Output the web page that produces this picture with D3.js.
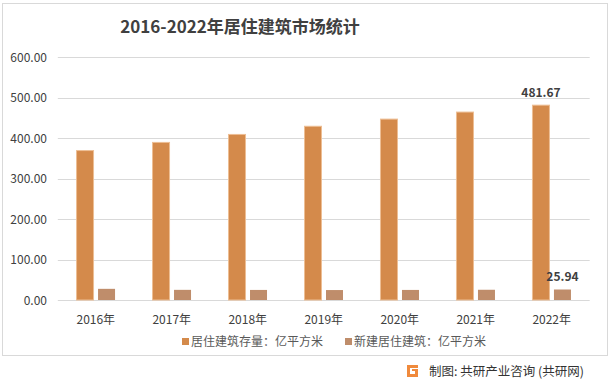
<!DOCTYPE html>
<html>
<head>
<meta charset="utf-8">
<script src="https://cdn.jsdelivr.net/npm/d3@7"></script>
<style>
  body { margin: 0; background: #fff; }
  svg { font-family: "Microsoft YaHei", "Noto Sans CJK SC", sans-serif; }
</style>
</head>
<body>
<div id="viz"></div>
<script>
const years = ["2016年", "2017年", "2018年", "2019年", "2020年", "2021年", "2022年"];
const stock = [369.4, 389.6, 409.3, 429.5, 447.2, 464.6, 481.67];
const newBuilt = [27.6, 25.1, 24.9, 24.6, 24.9, 25.3, 25.94];
const seriesNames = ["居住建筑存量：亿平方米", "新建居住建筑：亿平方米"];
const yTicks = [0, 100, 200, 300, 400, 500, 600];

const width = 611, height = 388;
const colors = ["#D48A4B", "#BF8D6B"];

const svg = d3.select("#viz").append("svg")
  .attr("width", width).attr("height", height);

// outer frame
svg.append("rect")
  .attr("x", 2.5).attr("y", 3.5).attr("width", 605).attr("height", 352)
  .attr("fill", "none").attr("stroke", "#D9D9D9");

svg.append("text")
  .attr("x", 240).attr("y", 33)
  .attr("text-anchor", "middle")
  .attr("font-size", 17).attr("font-weight", "bold")
  .attr("fill", "#404040")
  .text("2016-2022年居住建筑市场统计");

const x = d3.scaleBand().domain(years).range([57.8, 589.7]);
const y = d3.scaleLinear().domain([0, 600]).range([300, 57.3]);
const barW = 17, gap = 4.5;

// grid lines
svg.append("g").selectAll("line").data(yTicks).enter().append("line")
  .attr("x1", 57.8).attr("x2", 589.7)
  .attr("y1", d => Math.round(y(d)) + 0.5).attr("y2", d => Math.round(y(d)) + 0.5)
  .attr("stroke", "#D9D9D9").attr("stroke-width", 1);

svg.append("g").selectAll("text").data(yTicks).enter().append("text")
  .attr("x", 47).attr("y", d => y(d) + 4.5)
  .attr("text-anchor", "end")
  .attr("font-size", 12).attr("fill", "#404040")
  .text(d => d.toFixed(2));

const cx = d => x(d) + x.bandwidth() / 2;

svg.append("g").selectAll("rect").data(years).enter().append("rect")
  .attr("x", d => cx(d) - barW - gap / 2)
  .attr("y", (d, i) => y(stock[i]))
  .attr("width", barW)
  .attr("height", (d, i) => y(0) - y(stock[i]))
  .attr("fill", colors[0])
  .attr("stroke", "#EDBE94").attr("stroke-width", 1);

svg.append("g").selectAll("rect").data(years).enter().append("rect")
  .attr("x", d => cx(d) + gap / 2)
  .attr("y", (d, i) => y(newBuilt[i]))
  .attr("width", barW)
  .attr("height", (d, i) => y(0) - y(newBuilt[i]))
  .attr("fill", colors[1]);

// labels for last year
const last = years.length - 1;
svg.append("text")
  .attr("x", cx(years[last]) - barW / 2 - gap / 2).attr("y", y(stock[last]) - 8)
  .attr("text-anchor", "middle").attr("font-size", 12).attr("font-weight", "bold")
  .attr("fill", "#404040").text(stock[last].toFixed(2));
svg.append("text")
  .attr("x", cx(years[last]) + barW / 2 + gap / 2).attr("y", y(newBuilt[last]) - 9)
  .attr("text-anchor", "middle").attr("font-size", 12).attr("font-weight", "bold")
  .attr("fill", "#404040").text(newBuilt[last].toFixed(2));

// x labels
svg.append("g").selectAll("text").data(years).enter().append("text")
  .attr("x", d => cx(d)).attr("y", 324)
  .attr("text-anchor", "middle")
  .attr("font-size", 12).attr("fill", "#404040")
  .text(d => d);

// legend
const legendX = [182, 345];
seriesNames.forEach((name, i) => {
  svg.append("rect")
    .attr("x", legendX[i]).attr("y", 338).attr("width", 7).attr("height", 7)
    .attr("fill", colors[i]);
  svg.append("text")
    .attr("x", legendX[i] + 9).attr("y", 346)
    .attr("font-size", 12).attr("fill", "#595959")
    .text(name);
});

// footer logo + source
const logo = svg.append("g").attr("transform", "translate(407,365)");
logo.append("path")
  .attr("d", "M0,0 H11 V3 H3 V9 H8 V6 H5 V4 H11 V12 H0 Z")
  .attr("fill", "#F08A3C");
svg.append("text")
  .attr("x", 429).attr("y", 376)
  .attr("font-size", 12.5).attr("fill", "#333")
  .text("制图: 共研产业咨询 (共研网)");
</script>
</body>
</html>
